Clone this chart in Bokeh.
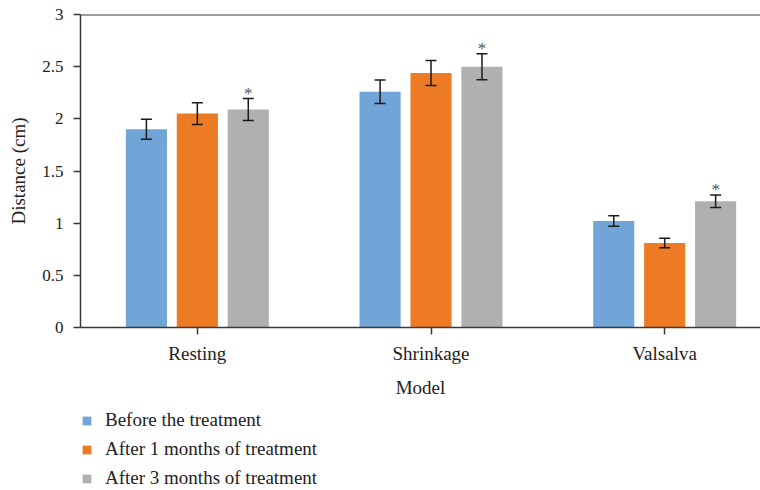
from bokeh.plotting import figure
from bokeh.layouts import column
from bokeh.models import (ColumnDataSource, Whisker, TeeHead, FixedTicker, Legend,
                          LegendItem, Span, Range1d, NumeralTickFormatter)
from bokeh.core.properties import value
from bokeh.embed import file_html
from bokeh.resources import INLINE

categories = ["Resting", "Shrinkage", "Valsalva"]
series = ["Before the treatment", "After 1 months of treatment", "After 3 months of treatment"]
before = [1.90, 2.26, 1.02]
before_err = [0.095, 0.113, 0.05]
after1 = [2.05, 2.44, 0.81]
after1_err = [0.105, 0.12, 0.045]
after3 = [2.09, 2.50, 1.21]
after3_err = [0.105, 0.125, 0.06]
star_marks = ["*", "*", "*"]
y_ticks = [0, 0.5, 1, 1.5, 2, 2.5, 3]
colors = ["#72A5D7", "#EC7B23", "#B0B0B0"]

FONT = "Liberation Serif"
TXT = "#222222"
AX = "#3a3a3a"

p = figure(width=760, height=400, output_backend="svg", toolbar_location=None,
           x_range=Range1d(-0.5, 2.41), y_range=Range1d(0, 3),
           min_border_left=80, min_border_right=0, min_border_top=14,
           min_border_bottom=72)
p.outline_line_color = None
p.grid.grid_line_color = None
p.background_fill_color = "white"
p.border_fill_color = "white"

offsets = [-0.218, 0.0, 0.218]
bar_w = 0.176
vals = [before, after1, after3]
errs = [before_err, after1_err, after3_err]

for k in range(3):
    xs = [i + offsets[k] for i in range(len(categories))]
    src = ColumnDataSource(dict(
        x=xs, top=vals[k],
        upper=[v + e for v, e in zip(vals[k], errs[k])],
        lower=[v - e for v, e in zip(vals[k], errs[k])],
    ))
    p.vbar(x="x", top="top", width=bar_w, source=src, fill_color=colors[k],
           line_color=None)
    w = Whisker(base="x", upper="upper", lower="lower", source=src, level="annotation",
                line_color="#1a1a1a", line_width=1.5,
                upper_head=TeeHead(size=11, line_color="#1a1a1a", line_width=1.5),
                lower_head=TeeHead(size=11, line_color="#1a1a1a", line_width=1.5))
    p.add_layout(w)
    if k == 2:
        ssrc = ColumnDataSource(dict(x=xs, y=src.data["upper"], t=star_marks))
        p.text(x="x", y="y", text="t", source=ssrc, text_font=value(FONT),
               text_font_size="17px", text_color="#555555", text_align="center",
               text_baseline="alphabetic", y_offset=-5)

# top border line
p.add_layout(Span(location=3, dimension="width", line_color=AX, line_width=2))

# axes
p.xaxis.ticker = FixedTicker(ticks=list(range(len(categories))))
p.xaxis.major_label_overrides = {i: c for i, c in enumerate(categories)}
p.xaxis.axis_label = "Model"
p.yaxis.ticker = FixedTicker(ticks=y_ticks)
p.yaxis.formatter = NumeralTickFormatter(format="0.[0]")
p.yaxis.axis_label = "Distance (cm)"

for ax in (p.xaxis, p.yaxis):
    ax.axis_line_color = AX
    ax.axis_line_width = 1.5
    ax.major_tick_line_color = AX
    ax.major_tick_line_width = 1.5
    ax.major_tick_in = 0
    ax.major_tick_out = 7
    ax.minor_tick_line_color = None
    ax.major_label_text_font = FONT
    ax.major_label_text_font_size = "19px"
    ax.major_label_text_color = TXT
    ax.axis_label_text_font = FONT
    ax.axis_label_text_font_size = "19px"
    ax.axis_label_text_font_style = "normal"
    ax.axis_label_text_color = TXT
p.yaxis.major_label_text_font_size = "17px"
p.xaxis.major_label_standoff = 8
p.xaxis.axis_label_standoff = 10
p.yaxis.major_label_standoff = 10
p.yaxis.axis_label_standoff = 10

# legend in a strip below the chart (proxy renderers lie outside its view)
lg = figure(width=760, height=90, output_backend="svg", toolbar_location=None,
            x_range=Range1d(-0.5, 2.41), y_range=Range1d(100, 101),
            min_border=0, x_axis_location=None, y_axis_location=None)
lg.outline_line_color = None
lg.grid.grid_line_color = None
items = []
for k in range(3):
    xs = [i + offsets[k] for i in range(len(categories))]
    r = lg.vbar(x=xs, top=vals[k], width=bar_w, fill_color=colors[k], line_color=None)
    items.append(LegendItem(label=series[k], renderers=[r]))
legend = Legend(items=items, location=(1, 1), orientation="vertical",
                margin=0, padding=0, spacing=7, label_height=22,
                glyph_width=11, glyph_height=11, label_standoff=13,
                border_line_color=None, background_fill_alpha=0,
                label_text_font=FONT, label_text_font_size="19px",
                label_text_color=TXT)
lg.add_layout(legend, "center")

layout = column(p, lg, spacing=0)
open("out.html", "w").write(file_html(layout, INLINE))
